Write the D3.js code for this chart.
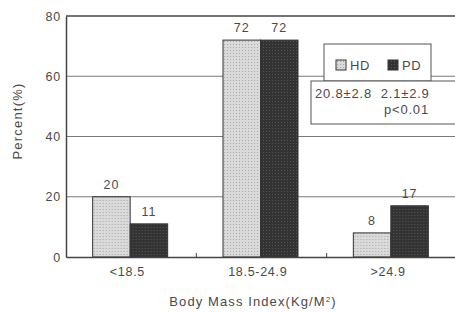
<!DOCTYPE html>
<html>
<head>
<meta charset="utf-8">
<script src="https://cdn.jsdelivr.net/npm/d3@7"></script>
<style>
  body { margin: 0; background: #fff; }
  text { font-family: "Liberation Sans", Arial, sans-serif; fill: #4a4a4a; }
</style>
</head>
<body>
<svg id="chart" width="455" height="313"></svg>
<script>
// chart values
const categories = ['<18.5', '18.5-24.9', '>24.9']
const groups = ['HD', 'PD']
const hdValues = [20, 72, 8]
const pdValues = [11, 72, 17]
const yTicks = [0, 20, 40, 60, 80]
const statLines = ['20.8\u00b12.8  2.1\u00b12.9', 'p<0.01']

const svg = d3.select('#chart')
const margin = { left: 66, top: 16, right: -2, bottom: 56 }
const width = 455 - margin.left - margin.right
const height = 313 - margin.top - margin.bottom

// stipple patterns for the two series
const defs = svg.append('defs')
const hdPat = defs.append('pattern').attr('id', 'hd')
  .attr('width', 3).attr('height', 3).attr('patternUnits', 'userSpaceOnUse')
hdPat.append('rect').attr('width', 3).attr('height', 3).attr('fill', '#dadada')
hdPat.append('rect').attr('x', 1).attr('y', 1).attr('width', 1).attr('height', 1).attr('fill', '#a8a8a8')
const pdPat = defs.append('pattern').attr('id', 'pd')
  .attr('width', 3).attr('height', 3).attr('patternUnits', 'userSpaceOnUse')
pdPat.append('rect').attr('width', 3).attr('height', 3).attr('fill', '#333')
pdPat.append('rect').attr('x', 1).attr('y', 1).attr('width', 1).attr('height', 1).attr('fill', '#555')

const fills = { HD: 'url(#hd)', PD: 'url(#pd)' }

const g = svg.append('g').attr('transform', `translate(${margin.left},${margin.top})`)

const x0 = d3.scaleBand().domain(categories).range([0, width]).paddingInner(0).paddingOuter(0)
const x1 = d3.scaleBand().domain(groups).range([0, 75]).padding(0)
const y = d3.scaleLinear().domain([0, 80]).range([height, 0])

// gridlines
g.selectAll('.grid').data(yTicks.filter(t => t > 0 && t < 80)).enter()
  .append('line')
  .attr('x1', 0).attr('x2', width)
  .attr('y1', d => y(d)).attr('y2', d => y(d))
  .attr('stroke', '#7a7a7a').attr('stroke-width', 1)

// frame top
g.append('line').attr('x1', 0).attr('x2', width).attr('y1', y(80)).attr('y2', y(80))
  .attr('stroke', '#444').attr('stroke-width', 1.5)

const rows = categories.map((c, i) => ({ cat: c, vals: [hdValues[i], pdValues[i]] }))

const cat = g.selectAll('.cat').data(rows).enter().append('g')
  .attr('transform', d => `translate(${x0(d.cat) + (x0.bandwidth() - 75) / 2 - 1},0)`)

cat.selectAll('rect').data(d => d.vals.map((v, j) => ({ key: groups[j], v })))
  .enter().append('rect')
  .attr('x', d => x1(d.key))
  .attr('y', d => y(d.v))
  .attr('width', x1.bandwidth())
  .attr('height', d => y(0) - y(d.v))
  .attr('fill', d => fills[d.key])
  .attr('stroke', '#333').attr('stroke-width', 1)

cat.selectAll('.lbl').data(d => d.vals.map((v, j) => ({ key: groups[j], v })))
  .enter().append('text')
  .attr('x', d => x1(d.key) + x1.bandwidth() / 2)
  .attr('y', d => y(d.v) - 8)
  .attr('text-anchor', 'middle')
  .style('font-size', '12.5px')
  .style('letter-spacing', '1px')
  .text(d => d.v)

// axes
const yAxis = g.append('g').call(d3.axisLeft(y).tickValues(yTicks).tickSize(0).tickPadding(5))
yAxis.select('.domain').attr('stroke', '#444').attr('stroke-width', 1.5)
yAxis.selectAll('text').style('font-size', '12.5px').style('letter-spacing', '0.8px').attr('fill', '#4a4a4a')

const xAxis = g.append('g').attr('transform', `translate(0,${height})`)
  .call(d3.axisBottom(x0).tickSize(0).tickPadding(10))
xAxis.select('.domain').attr('stroke', '#444').attr('stroke-width', 1.5)
xAxis.selectAll('text').style('font-size', '12.5px').style('letter-spacing', '0.7px').attr('fill', '#4a4a4a')
  .attr('dx', '-0.3em')

// small separators between categories
g.selectAll('.sep').data(categories.slice(1)).enter().append('line')
  .attr('x1', d => x0(d)).attr('x2', d => x0(d))
  .attr('y1', height - 4).attr('y2', height)
  .attr('stroke', '#444')

// axis titles
svg.append('text')
  .attr('transform', 'translate(22,121) rotate(-90)')
  .attr('text-anchor', 'middle')
  .style('font-size', '13px')
  .style('letter-spacing', '1.2px')
  .text('Percent(%)')

const xt = svg.append('text')
  .attr('x', 253).attr('y', 306)
  .attr('text-anchor', 'middle')
  .style('font-size', '13px')
  .style('letter-spacing', '1.1px')
  .text('Body Mass Index(Kg/M')
xt.append('tspan').attr('dy', -4).style('font-size', '8px').text('2')
xt.append('tspan').attr('dy', 4).text(')')

// legend box
const leg = svg.append('g')
leg.append('rect').attr('x', 324).attr('y', 44).attr('width', 107).attr('height', 37)
  .attr('fill', '#fff').attr('stroke', '#555')
groups.forEach((k, i) => {
  const lx = 336 + i * 52
  leg.append('rect').attr('x', lx).attr('y', 60).attr('width', 10).attr('height', 10)
    .attr('fill', fills[k]).attr('stroke', '#333')
  leg.append('text').attr('x', lx + 14).attr('y', 70).style('font-size', '13px')
    .style('letter-spacing', '0.5px').text(k)
})

// stats box
leg.append('rect').attr('x', 311).attr('y', 81).attr('width', 150).attr('height', 43)
  .attr('fill', '#fff').attr('stroke', '#555')
leg.append('text').attr('x', 315).attr('y', 98).style('font-size', '13px')
  .style('letter-spacing', '0.8px')
  .style('white-space', 'pre').text(statLines[0])
leg.append('text').attr('x', 384).attr('y', 114).style('font-size', '13px')
  .style('letter-spacing', '0.8px').text(statLines[1])
</script>
</body>
</html>
